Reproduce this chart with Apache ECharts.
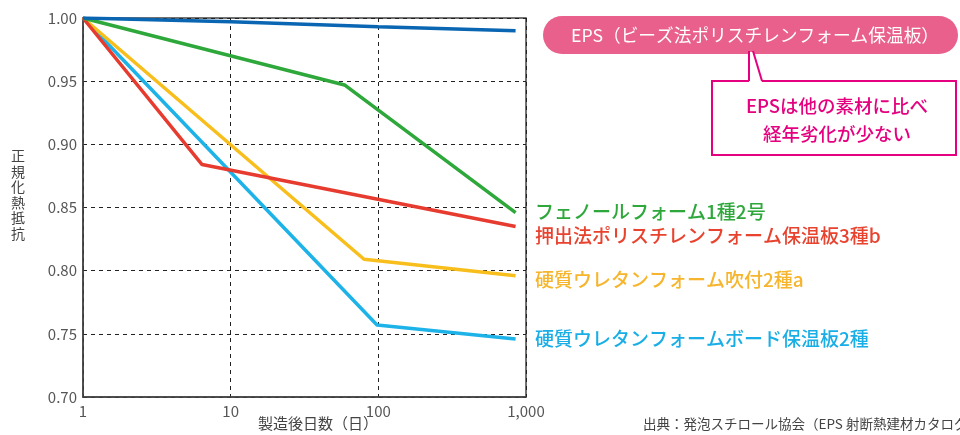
<!DOCTYPE html>
<html><head><meta charset="utf-8">
<script src="https://cdn.jsdelivr.net/npm/echarts@6/dist/echarts.min.js"></script>
<style>html,body{margin:0;padding:0;background:#fff}#c{width:960px;height:435px}</style>
</head><body><div id="c"></div>
<script>
const xTicks = [1, 10, 100, 1000];
const seriesNames = ['EPS（ビーズ法ポリスチレンフォーム保温板）','フェノールフォーム1種2号','押出法ポリスチレンフォーム保温板3種b','硬質ウレタンフォーム吹付2種a','硬質ウレタンフォームボード保温板2種'];
const epsData = [[1,1.0],[10,0.997],[100,0.993],[850,0.990]];
const phenolData = [[1,1.0],[59,0.947],[850,0.846]];
const xpsData = [[1,1.0],[6.4,0.884],[850,0.835]];
const sprayData = [[1,1.0],[80,0.809],[850,0.796]];
const boardData = [[1,1.0],[98,0.757],[850,0.746]];
const colors = ['#0a66b3','#2ea83b','#e63b2e','#f8be1c','#1db3e8'];
const labelColors = ['#ffffff','#2ea83b','#e8432f','#f6b52c','#19aee6'];
const F = '"Noto Sans CJK JP","Noto Sans",sans-serif';

const chart = echarts.init(document.getElementById('c'));
const datasets = [epsData, phenolData, xpsData, sprayData, boardData];
chart.setOption({
  animation:false,
  grid:{left:83,right:434,top:18,bottom:38,show:true,borderColor:'#444',borderWidth:1.5},
  xAxis:{type:'log',logBase:10,min:1,max:1000,
    axisLine:{show:true,lineStyle:{color:'#444',width:1.5}},
    axisTick:{show:false},
    axisLabel:{color:'#555',fontSize:15,fontFamily:F,margin:7,
      formatter:v=>Number(v).toLocaleString('en-US')},
    splitLine:{show:true,lineStyle:{color:'#222',type:[4,4],width:1}}},
  yAxis:{type:'value',min:0.70,max:1.00,interval:0.05,
    axisLine:{show:true,lineStyle:{color:'#444',width:1.5}},
    axisTick:{show:false},
    axisLabel:{color:'#555',fontSize:15,fontFamily:F,margin:6,formatter:v=>v.toFixed(2)},
    splitLine:{show:true,lineStyle:{color:'#222',type:[4,4],width:1}}},
  series: datasets.map((d,i)=>({type:'line',name:seriesNames[i],data:d,symbol:'none',
    lineStyle:{color:colors[i],width:3.5},z:10-i})),
  graphic:[
    {type:'text',left:11,top:148,style:{text:'正\n規\n化\n熱\n抵\n抗',font:'14px '+F,fill:'#444',lineHeight:15.5}},
    {type:'text',left:258,top:416,style:{text:'製造後日数（日）',font:'15px '+F,fill:'#444'}},
    {type:'text',left:643,top:417,style:{text:'出典：発泡スチロール協会（EPS 射断熱建材カタログ）',font:'13.5px '+F,fill:'#444'}},
    {type:'rect',shape:{x:543,y:16,width:415,height:38,r:19},style:{fill:'#e8608b'}},
    {type:'text',x:755,y:35,style:{text:seriesNames[0],font:'17.7px '+F,fill:'#fff',align:'center',verticalAlign:'middle'}},
    {type:'rect',shape:{x:712,y:81,width:244,height:74},style:{fill:'#fff',stroke:'#e4007f',lineWidth:2}},
    {type:'polygon',shape:{points:[[749,52],[753,52],[762,82],[749,82]]},style:{fill:'#fff'}},
    {type:'polyline',shape:{points:[[749,51],[749,81]]},style:{stroke:'#e4007f',lineWidth:2,fill:null}},
    {type:'polyline',shape:{points:[[753,51],[762,81]]},style:{stroke:'#e4007f',lineWidth:2,fill:null}},
    {type:'text',x:837,y:106,style:{text:'EPSは他の素材に比べ',font:'500 18.5px '+F,fill:'#e4007f',align:'center',verticalAlign:'middle'}},
    {type:'text',x:837,y:134,style:{text:'経年劣化が少ない',font:'500 18.5px '+F,fill:'#e4007f',align:'center',verticalAlign:'middle'}},
    {type:'text',left:535,top:202,style:{text:seriesNames[1],font:'500 19px '+F,fill:labelColors[1]}},
    {type:'text',left:535,top:226,style:{text:seriesNames[2],font:'500 19px '+F,fill:labelColors[2]}},
    {type:'text',left:535,top:270,style:{text:seriesNames[3],font:'500 19px '+F,fill:labelColors[3]}},
    {type:'text',left:535,top:329,style:{text:seriesNames[4],font:'500 19px '+F,fill:labelColors[4]}}
  ]
});
</script></body></html>
